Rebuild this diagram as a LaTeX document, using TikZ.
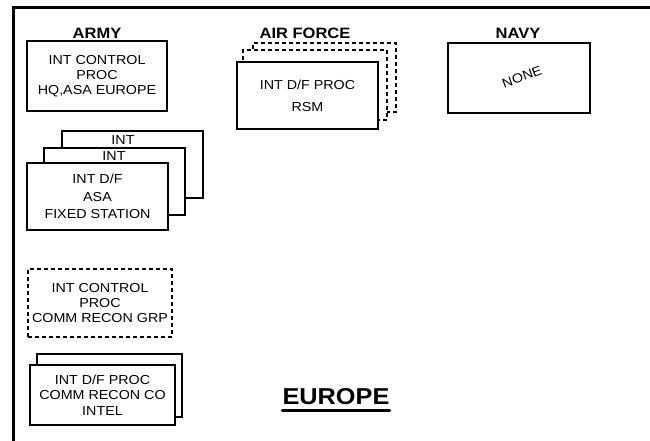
\documentclass[tikz,border=0pt]{standalone}
\usepackage{fontspec}
\setmainfont{Liberation Sans}[FakeStretch=1.1]
\usetikzlibrary{positioning}

\begin{document}
\begin{tikzpicture}[x=1pt,y=-1pt,
    unitbox/.style={draw,line width=1.1pt,fill=white,inner sep=0pt,align=center,
      font=\fontsize{13}{15}\selectfont},
    planbox/.style={unitbox,dash pattern=on 4pt off 3pt},
    heading/.style={font=\fontsize{15}{17}\selectfont\bfseries}]
    \useasboundingbox (0,0) rectangle (650,441);

    % frame
    \draw[line width=3pt] (12,8) -- (650,8);
    \draw[line width=3pt] (13,8) -- (13,441);

    % service headings
    \node[heading] (army) at (97,33) {ARMY};
    \node[heading] (air-force) at (305,33) {AIR FORCE};
    \node[heading] (navy) at (518,33) {NAVY};

    % army column
    \node[unitbox,minimum width=140pt,minimum height=70pt] (army-hq) at (97,76) {INT CONTROL\\PROC\\HQ,ASA EUROPE};

    \node[unitbox,minimum width=141pt,minimum height=67pt] (asa-back) at (132.5,164.5) {};
    \node[unitbox,minimum width=141pt,minimum height=67pt] (asa-mid) at (114.5,181.5) {};
    \node[unitbox,minimum width=141pt,minimum height=67pt,font=\fontsize{13}{17.5}\selectfont] (asa-front) at (97.5,196.5) {INT D/F\\ASA\\FIXED STATION};
    \node[font=\fontsize{13}{14}\selectfont] (asa-back-int) at (123,140) {INT};
    \node[font=\fontsize{13}{14}\selectfont] (asa-mid-int) at (114,156.5) {INT};

    \node[planbox,minimum width=144pt,minimum height=68pt] (recon-grp) at (100,303) {INT CONTROL\\PROC\\COMM RECON GRP};

    \node[unitbox,minimum width=145pt,minimum height=63pt] (recon-back) at (109.5,385.5) {};
    \node[unitbox,minimum width=145pt,minimum height=60pt,font=\fontsize{13}{15.5}\selectfont] (recon-co) at (102.5,395) {INT D/F PROC\\COMM RECON CO\\INTEL};

    % air force column
    \node[planbox,minimum width=143pt,minimum height=69pt] (rsm-back) at (324.5,77.5) {};
    \node[planbox,minimum width=144pt,minimum height=70pt] (rsm-mid) at (315,85) {};
    \node[unitbox,minimum width=141pt,minimum height=67pt,font=\fontsize{13}{22}\selectfont] (rsm) at (307.5,95.5) {INT D/F PROC\\RSM};

    % navy column
    \node[unitbox,minimum width=142pt,minimum height=70pt] (navy-box) at (519,78) {};
    \node[rotate=20,inner sep=1pt,font=\fontsize{13}{14}\selectfont] (navy-none) at (522,77) {NONE};

    % theater
    \node[inner sep=0pt,font=\fontsize{23}{27}\selectfont\bfseries] (europe) at (336,397) {EUROPE};
    \draw[line width=3pt,line cap=round] ([yshift=-5pt]europe.south west) -- ([yshift=-5pt]europe.south east);
\end{tikzpicture}
\end{document}
